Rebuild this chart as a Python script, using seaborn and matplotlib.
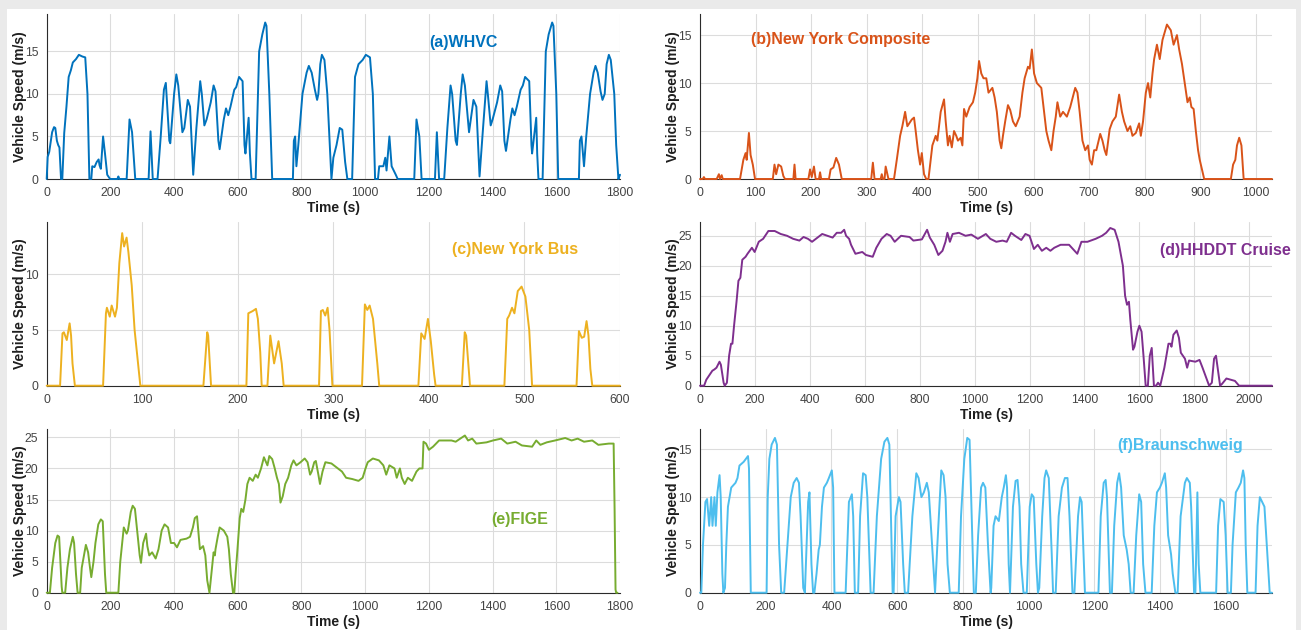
import numpy as np
import pandas as pd
import matplotlib
matplotlib.use("Agg")
import matplotlib.pyplot as plt
from matplotlib.patches import Rectangle
import seaborn as sns

sns.set_style("white")
plt.rcParams["font.family"] = ["Liberation Sans", "DejaVu Sans"]

# ---- driving cycles: (time s, speed m/s) ----
whvc = [(0, 0), (3, 2.6), (8, 3.2), (17, 5.5), (23, 6.1), (27, 6.0), (32, 4.5), (36, 4.0), (40, 3.7), (45, 0),
        (49, 0), (55, 5.4), (62, 8.5), (69, 12), (76, 12.8), (82, 13.7), (92, 14.1), (101, 14.6), (112, 14.4),
        (121, 14.3), (128, 10), (134, 0), (140, 0), (143, 1.5), (150, 1.4), (157, 2.0), (163, 2.3), (166, 1.6),
        (170, 1.2), (177, 5.0), (183, 3), (190, 0.5), (199, 0), (222, 0), (225, 0.3), (228, 0), (251, 0),
        (260, 7.0), (268, 5.5), (278, 0), (320, 0), (326, 5.6), (333, 0), (348, 0), (358, 5), (368, 10.5),
        (374, 11.3), (385, 4.5), (388, 4.2), (400, 10), (407, 12.3), (413, 11), (426, 5.5), (432, 6),
        (443, 9.3), (450, 8.5), (460, 0.5), (470, 6), (482, 11.5), (487, 10), (495, 6.3), (502, 7), (515, 9),
        (524, 11), (530, 10.3), (539, 4.5), (543, 3.5), (556, 7), (563, 8.3), (570, 7.5), (577, 8.5),
        (589, 10.5), (595, 10.8), (604, 12), (615, 11.5), (621, 4), (624, 3), (634, 7.2), (638, 3), (643, 0),
        (656, 0), (667, 15), (677, 17), (686, 18.4), (690, 18), (699, 10), (708, 0), (773, 0), (776, 4.5),
        (780, 5), (784, 1.5), (790, 4), (803, 10), (816, 12.5), (823, 13.3), (832, 12.5), (842, 10.5),
        (849, 9.3), (853, 10), (859, 13.5), (864, 14.6), (872, 14), (881, 10), (894, 0), (900, 2.5), (910, 4),
        (920, 6), (928, 5.8), (937, 2), (944, 0), (959, 0), (968, 12), (979, 13.5), (992, 14), (1002, 14.6),
        (1015, 14.3), (1024, 10), (1031, 0), (1040, 0), (1044, 1.5), (1057, 1.5), (1063, 2.5), (1067, 1),
        (1076, 5), (1083, 1.5), (1096, 0.5), (1102, 0), (1154, 0), (1161, 7), (1170, 5), (1177, 0), (1219, 0),
        (1225, 5.5), (1232, 0), (1248, 0), (1258, 6), (1268, 11), (1273, 10), (1284, 4.5), (1288, 4),
        (1300, 10), (1306, 12.3), (1313, 11), (1326, 5.5), (1340, 9.3), (1349, 8.5), (1359, 0.3), (1370, 6),
        (1381, 11.5), (1385, 10), (1394, 6.3), (1400, 7), (1414, 9), (1424, 11), (1430, 10.3), (1437, 4.5),
        (1442, 3.3), (1456, 7), (1462, 8.3), (1469, 7.5), (1476, 8.5), (1488, 10.5), (1495, 11), (1502, 12),
        (1515, 11.5), (1522, 4), (1524, 3), (1537, 7.2), (1540, 3), (1544, 0), (1557, 0), (1567, 15),
        (1576, 17), (1587, 18.4), (1591, 18), (1600, 10), (1606, 0), (1671, 0), (1674, 4.5), (1679, 5),
        (1687, 1.5), (1694, 5), (1706, 10), (1717, 12.5), (1723, 13.3), (1730, 12.5), (1739, 10.3),
        (1745, 9.3), (1752, 10), (1758, 13.5), (1765, 14.6), (1771, 14), (1782, 10), (1788, 4), (1795, 0),
        (1800, 0.5)]

ny_composite = [(0, 0), (5, 0), (7, 0.2), (9, 0), (30, 0), (34, 0.5), (36, 0), (39, 0.4), (41, 0), (72, 0),
                (75, 1), (78, 2), (82, 2.7), (84, 2), (88, 4.8), (91, 2.5), (95, 1.5), (99, 0), (131, 0),
                (134, 1.5), (137, 0.5), (141, 1.5), (146, 1.3), (150, 0.3), (153, 0), (168, 0), (170, 1.5),
                (172, 0), (195, 0), (198, 1), (201, 0.2), (205, 1.3), (208, 0), (214, 0), (216, 0.7), (218, 0),
                (232, 0), (235, 1), (240, 1.2), (245, 2.2), (250, 1.5), (255, 0), (308, 0), (311, 1.7),
                (314, 0), (325, 0), (327, 0.5), (329, 0), (332, 0), (334, 1.3), (339, 0), (349, 0), (354, 2),
                (360, 4.5), (364, 5.5), (369, 7), (373, 5.5), (381, 6.2), (385, 6.4), (388, 5), (392, 3),
                (396, 1.5), (399, 2.7), (403, 0.5), (407, 0), (411, 0), (418, 3.5), (424, 4.5), (427, 4),
                (433, 7), (439, 8.3), (442, 6), (446, 3.5), (449, 4.5), (453, 3.3), (457, 5), (461, 4.5),
                (464, 4), (469, 4.3), (472, 3.5), (475, 7.3), (479, 6.5), (485, 7.5), (491, 8), (495, 9),
                (499, 10.5), (502, 12.3), (506, 11), (510, 10.5), (515, 10.5), (519, 9), (526, 9.5),
                (530, 8.5), (534, 7), (539, 4), (542, 3.2), (545, 4.5), (549, 6), (554, 7.7), (558, 7.2),
                (563, 6), (568, 5.5), (575, 6.5), (580, 9), (584, 10.5), (590, 11.7), (593, 11.5),
                (597, 13.5), (601, 11), (606, 10), (614, 9.5), (618, 7.5), (623, 5), (627, 4), (632, 3),
                (636, 5), (640, 6.5), (643, 8), (648, 6.5), (653, 7), (660, 6.5), (666, 7.5), (675, 9.5),
                (679, 9), (683, 7), (688, 4), (693, 3), (698, 3.5), (701, 2), (705, 1.5), (709, 3), (713, 3),
                (720, 4.7), (724, 4), (728, 3), (731, 2.5), (737, 5.2), (742, 6), (748, 6.5), (754, 8.8),
                (759, 7), (763, 6), (769, 5), (774, 5.5), (778, 4.5), (784, 4.8), (790, 5.8), (793, 4.5),
                (797, 6), (802, 9), (806, 10), (810, 8.5), (814, 11), (817, 12.5), (822, 14), (827, 12.5),
                (832, 14.5), (840, 16.1), (847, 15.5), (852, 14), (858, 15), (862, 13.5), (867, 12),
                (872, 10), (877, 8), (881, 8.5), (884, 7.5), (888, 7.3), (892, 5), (896, 3), (899, 2),
                (903, 1), (907, 0), (955, 0), (959, 1.5), (963, 2), (966, 3.5), (970, 4.3), (974, 3.5),
                (978, 0), (1029, 0)]

ny_bus = [(0, 0), (14, 0), (16.5, 4.7), (18, 4.8), (21, 4.1), (24, 5.6), (25.5, 4.5), (27, 2), (29.5, 0),
          (59, 0), (62, 6.5), (63, 7), (66, 6.2), (68, 7.2), (71.5, 6.2), (73.5, 7), (76, 11), (79, 13.7),
          (81, 12.5), (83.6, 13.3), (85.5, 12), (89, 9), (92, 5), (98, 0), (164, 0), (168, 4.8), (169, 4.5),
          (172, 0), (209, 0), (211, 6.5), (215.5, 6.7), (219, 6.9), (221, 6), (223.5, 3), (225, 0), (231, 0),
          (234, 4.5), (238, 2), (242.6, 4), (246, 2), (248, 0), (285, 0), (287, 6.7), (289, 6.8),
          (291.5, 6.3), (294, 7), (296, 5), (299, 0), (330, 0), (333, 7.3), (335.5, 6.8), (338, 7.2),
          (341.5, 6), (346, 2), (348, 0), (389, 0), (392, 4.7), (395.5, 4.2), (399, 6), (402, 4),
          (405.5, 1), (407, 0), (434.5, 0), (437.5, 4.8), (439, 4.5), (443, 0), (479, 0), (482, 6),
          (484, 6.3), (487, 7), (489.5, 6.5), (493, 8.5), (497, 8.9), (501, 8), (505, 5), (508, 0),
          (554.5, 0), (557, 4.9), (560, 4.3), (562.5, 4.4), (565, 5.8), (567, 4.5), (569, 1.5), (571, 0),
          (600, 0)]

hhddt_cruise = [(0, 0), (15, 0), (23, 1), (45, 2.5), (52, 2.7), (60, 3), (71, 4), (76, 3.5), (86, 0.5),
                (90, 0), (98, 0.5), (106, 5), (113, 7), (118, 7), (124, 10), (133, 14), (140, 17.5),
                (147, 18), (154, 21), (166, 21.5), (173, 22), (189, 23), (199, 22.3), (214, 24), (230, 24.5),
                (249, 25.8), (272, 25.8), (294, 25.3), (317, 25), (339, 24.5), (362, 24.2), (377, 24.8),
                (393, 24.5), (408, 24), (422, 24.5), (445, 25.3), (464, 25), (483, 24.7), (498, 25.5),
                (514, 25.5), (525, 26), (532, 25), (543, 24.5), (550, 23.5), (566, 22), (591, 22.3),
                (604, 21.8), (629, 21.5), (642, 23), (661, 24.5), (680, 25.3), (694, 25), (709, 24),
                (732, 25), (763, 24.8), (777, 24.2), (808, 24.4), (827, 26), (837, 24.7), (853, 23.5),
                (868, 21.8), (883, 22.5), (894, 24), (901, 25.5), (910, 24), (920, 25.3), (943, 25.5),
                (967, 25), (988, 25.2), (1012, 24.5), (1041, 25.3), (1057, 24.5), (1079, 24), (1102, 24.2),
                (1117, 24), (1133, 25.5), (1147, 25), (1170, 24.3), (1185, 25.3), (1200, 25), (1216, 22.8),
                (1230, 23.5), (1245, 22.5), (1261, 23), (1276, 22.5), (1290, 23), (1313, 23.5), (1344, 23.5),
                (1358, 22.8), (1374, 22), (1389, 24), (1411, 24), (1441, 24.5), (1464, 25), (1479, 25.5),
                (1494, 26.3), (1510, 26), (1524, 24), (1532, 22), (1540, 20), (1548, 15), (1555, 13.5),
                (1562, 14), (1567, 11), (1577, 6), (1582, 6.5), (1593, 9), (1600, 10), (1608, 9), (1615, 5),
                (1623, 0), (1631, 0), (1638, 5), (1645, 6.3), (1648, 4), (1653, 0), (1661, 0), (1668, 0.5),
                (1676, 0), (1691, 3), (1706, 7), (1713, 7), (1717, 6.5), (1724, 8.5), (1736, 9.2), (1744, 8),
                (1751, 5.5), (1766, 4.5), (1774, 3), (1781, 4.2), (1804, 4), (1819, 4.3), (1830, 3),
                (1842, 1.5), (1854, 0), (1864, 0.5), (1872, 4.5), (1879, 5), (1894, 0), (1901, 0.3),
                (1917, 1.2), (1932, 1), (1948, 0.8), (1963, 0), (2083, 0)]

fige = [(0, 0), (10, 0), (17, 4), (27, 8), (34, 9.2), (39, 9), (43, 5), (47, 1), (49, 0), (58, 0), (65, 4),
        (73, 7), (82, 9), (86, 8), (92, 3), (97, 0), (105, 0), (110, 4), (123, 7.7), (130, 6.5), (136, 4),
        (140, 2.5), (147, 5), (153, 8), (162, 11), (170, 11.8), (176, 11.5), (179, 8), (183, 3), (187, 0),
        (225, 0), (231, 5), (242, 10.5), (251, 9.5), (255, 10), (264, 13), (270, 14), (277, 13.5), (286, 9),
        (292, 6), (296, 4.8), (303, 8), (312, 9.5), (316, 7.5), (322, 6), (331, 6.5), (342, 5.5), (351, 7),
        (361, 10), (370, 11), (381, 10.5), (390, 8), (400, 8), (409, 7.3), (420, 8.5), (439, 8.7), (450, 9),
        (459, 10.5), (465, 12), (472, 12.3), (476, 10), (481, 7), (491, 7.5), (498, 6), (504, 2), (511, 0),
        (517, 3), (524, 6.5), (528, 6), (530, 7), (537, 9), (543, 10.5), (556, 10), (567, 9), (572, 7),
        (578, 3), (585, 0), (589, 0), (593, 3), (599, 7), (606, 12), (611, 13.5), (617, 13), (624, 15),
        (630, 17.5), (637, 18.5), (647, 18), (656, 19), (663, 18.5), (673, 20), (682, 21.8), (693, 20.5),
        (699, 22), (708, 21.5), (716, 20), (723, 18.5), (729, 17.5), (734, 14.5), (741, 15.5), (749, 17.5),
        (758, 18.5), (768, 20.5), (775, 21.3), (784, 20.5), (797, 21), (810, 21.6), (819, 21), (827, 19),
        (832, 19.5), (840, 21), (845, 21.2), (853, 19), (858, 17.5), (866, 19.5), (875, 21), (894, 20.8),
        (914, 20), (927, 19.5), (940, 18.5), (959, 18.3), (979, 18), (992, 18.5), (1001, 20), (1008, 21),
        (1024, 21.6), (1043, 21.3), (1057, 20.5), (1066, 19), (1076, 20.5), (1092, 20), (1099, 18.5),
        (1109, 20), (1115, 18.5), (1124, 17.5), (1134, 18.5), (1147, 18), (1161, 19.5), (1170, 20),
        (1180, 20), (1183, 24.3), (1191, 24), (1200, 23), (1213, 23.5), (1232, 24.5), (1271, 24.5),
        (1284, 24.3), (1313, 25.3), (1323, 24.5), (1336, 24.8), (1349, 24), (1381, 24.2), (1401, 24.5),
        (1427, 24.8), (1446, 24), (1472, 24.3), (1492, 23.7), (1524, 23.5), (1537, 24.5), (1550, 23.8),
        (1570, 24.2), (1596, 24.5), (1628, 24.9), (1648, 24.5), (1667, 24.8), (1687, 24.3), (1713, 24.5),
        (1732, 23.8), (1765, 24), (1780, 24), (1783, 13.5), (1786, 0.5), (1788, 0), (1792, 0)]

braunschweig = [(0, 0), (4, 0), (9, 5), (16.5, 9.5), (21.5, 9.8), (28, 7), (34, 10), (38, 7), (44, 10),
                (48, 7), (53, 10.5), (59.5, 12.3), (63, 10), (68, 2), (71, 0), (76, 0.5), (80, 5), (85, 9),
                (95, 11), (108, 11.5), (114, 12), (120, 13.3), (133, 13.7), (146, 14.3), (149, 13),
                (154.5, 0), (202.6, 0), (206, 10), (211, 14), (218, 15.5), (228, 16.2), (234, 15.5),
                (240.5, 5), (247, 0), (256, 0), (266, 5), (276, 10), (285, 11.5), (294, 12), (301, 11.5),
                (306, 8), (314, 0.5), (319, 0), (329, 9.5), (333, 10.5), (339, 3), (344, 0), (348, 0),
                (354.5, 2), (361, 4.5), (364.6, 5), (371, 9), (377, 11), (386, 11.5), (392, 12),
                (401, 12.8), (405, 11), (409, 0), (443, 0), (453, 9.5), (462, 10.3), (466, 8), (471, 0),
                (481, 0), (487, 8), (496, 12.5), (504, 12.3), (509, 10), (519, 0), (528, 0), (538, 8),
                (551, 14), (561, 15.8), (570, 16.2), (576, 15.5), (586, 0), (589, 0), (595, 8), (605, 10),
                (610, 9.5), (618, 3), (623, 0), (633, 0), (646, 8), (658, 12.5), (665, 12), (673.5, 10),
                (681, 10.5), (690, 11.5), (696, 10.5), (706, 5), (715, 0), (722, 5), (734, 12.8),
                (741, 12.3), (747, 10), (753, 3), (760, 0), (787, 0), (794, 8), (804, 14), (813, 16.2),
                (820, 16), (825, 10), (833, 0), (839, 0), (846, 6), (855, 11), (861, 11.5), (868, 11),
                (876, 5), (884, 0), (886, 0.5), (893, 7), (899, 8), (909, 7.5), (918, 10), (924, 11),
                (930.5, 12.3), (934, 11), (939, 3), (943, 0), (952, 9), (960, 11.7), (966, 11.8), (972, 9),
                (977, 3), (984, 0), (994, 0), (1003, 9), (1009, 10.3), (1015, 10), (1023, 3), (1028, 0),
                (1032, 0.5), (1041, 8), (1048, 12), (1053, 12.8), (1061, 12), (1070, 4), (1074, 0),
                (1082, 0), (1091, 8), (1101, 11), (1110, 12), (1118, 12), (1124, 8), (1133, 0), (1139, 0),
                (1150, 8), (1156, 10), (1161, 9.5), (1171, 0), (1212, 0), (1219, 8), (1228, 11.5),
                (1234, 11.8), (1238, 10), (1247, 0), (1253, 0), (1260, 7), (1269, 11.5), (1275, 12.5),
                (1281, 11), (1289, 6), (1298, 4.5), (1304, 3), (1310, 0), (1319, 0), (1327, 6),
                (1336, 10.3), (1342, 9.5), (1348, 3), (1355, 0), (1374, 0), (1382, 7), (1390, 10.5),
                (1399, 11), (1405, 11.5), (1414, 12.5), (1418, 11), (1424, 6), (1433, 4), (1438, 2),
                (1446, 0), (1453, 0), (1462, 8), (1475, 11.5), (1481, 12), (1490, 11.5), (1494, 9),
                (1503, 0), (1507, 0), (1513, 10.5), (1517, 3), (1522, 0), (1570, 0), (1576, 7),
                (1583, 9.8), (1593, 9.5), (1599, 6), (1605, 0), (1615, 0), (1620, 5), (1630, 10.5),
                (1638, 11), (1645, 11.5), (1652, 12.8), (1656, 12), (1660, 5), (1665, 0), (1690, 0),
                (1696, 7), (1703, 10), (1710, 9.5), (1717, 9), (1724, 5), (1733, 0), (1740, 0)]

cycle_names = ["(a)WHVC", "(b)New York Composite", "(c)New York Bus",
               "(d)HHDDT Cruise", "(e)FIGE", "(f)Braunschweig"]
cycle_colors = ["#0072BD", "#D95319", "#EDB120", "#7E2F8E", "#77AC30", "#4DBEEE"]

W, H = 1301, 630
fig = plt.figure(figsize=(W / 100, H / 100), dpi=100)
fig.patch.set_facecolor("#eaeaea")
fig.add_artist(Rectangle((7 / W, 0), (1296 - 7) / W, (H - 9) / H, transform=fig.transFigure,
                         facecolor="white", edgecolor="none", zorder=0))


def px_axes(left, top, right, bottom):
    return [left / W, 1 - bottom / H, (right - left) / W, (bottom - top) / H]


panels = [
    dict(data=whvc, box=px_axes(46.7, 14, 620, 179), xmax=1800, xstep=200, ymax=19.4, ystep=5,
         label_xy=(0.667, 0.83)),
    dict(data=ny_composite, box=px_axes(700, 14, 1272, 179), xmax=1029, xstep=100, ymax=17.2, ystep=5,
         label_xy=(0.089, 0.847)),
    dict(data=ny_bus, box=px_axes(46.7, 222, 620, 385.7), xmax=600, xstep=100, ymax=14.7, ystep=5,
         label_xy=(0.707, 0.835)),
    dict(data=hhddt_cruise, box=px_axes(700, 222, 1272, 385.7), xmax=2083, xstep=200, ymax=27.3, ystep=5,
         label_xy=(0.804, 0.823)),
    dict(data=fige, box=px_axes(46.7, 429.3, 620, 592.7), xmax=1800, xstep=200, ymax=26.3, ystep=5,
         label_xy=(0.775, 0.451)),
    dict(data=braunschweig, box=px_axes(700, 429.3, 1272, 592.7), xmax=1740, xstep=200, ymax=17.1, ystep=5,
         label_xy=(0.729, 0.898)),
]

axis_dark = "#2b2b2b"
for p, name, color in zip(panels, cycle_names, cycle_colors):
    ax = fig.add_axes(p["box"])
    t, v = zip(*p["data"])
    df = pd.DataFrame({"Time (s)": t, "Vehicle Speed (m/s)": v})
    sns.lineplot(data=df, x="Time (s)", y="Vehicle Speed (m/s)", ax=ax, color=color,
                 linewidth=1.4, estimator=None, sort=False)
    for ln in ax.lines:
        ln.set_clip_on(False)
        ln.set_zorder(3)

    ax.set_xlim(0, p["xmax"])
    ax.set_ylim(0, p["ymax"])
    ax.set_xticks(np.arange(0, p["xmax"] + 1, p["xstep"]))
    ax.set_yticks(np.arange(0, p["ymax"], p["ystep"]))
    ax.grid(True, color="#dcdcdc", linewidth=0.8)
    ax.set_axisbelow(True)
    for side in ("top", "right"):
        ax.spines[side].set_visible(False)
    for side in ("left", "bottom"):
        ax.spines[side].set_color(axis_dark)
        ax.spines[side].set_linewidth(0.8)
    ax.tick_params(direction="in", length=3.5, width=0.8, color=axis_dark,
                   labelcolor="#444444", labelsize=8.7, pad=6)
    ax.set_xlabel("Time (s)", fontsize=10, fontweight="bold", color="#1e1e1e", labelpad=1.5)
    ax.set_ylabel("Vehicle Speed (m/s)", fontsize=10, fontweight="bold", color="#1e1e1e")
    # fixed offset so every panel's y label sits the same distance from its axis
    ax.yaxis.set_label_coords(-19.5 / (p["box"][2] * W), 0.5)
    ax.text(p["label_xy"][0], p["label_xy"][1], name, transform=ax.transAxes, ha="left", va="center",
            color=color, fontsize=11.5, fontweight="bold", clip_on=False)

fig.savefig("out.png", dpi=100, facecolor=fig.get_facecolor())
